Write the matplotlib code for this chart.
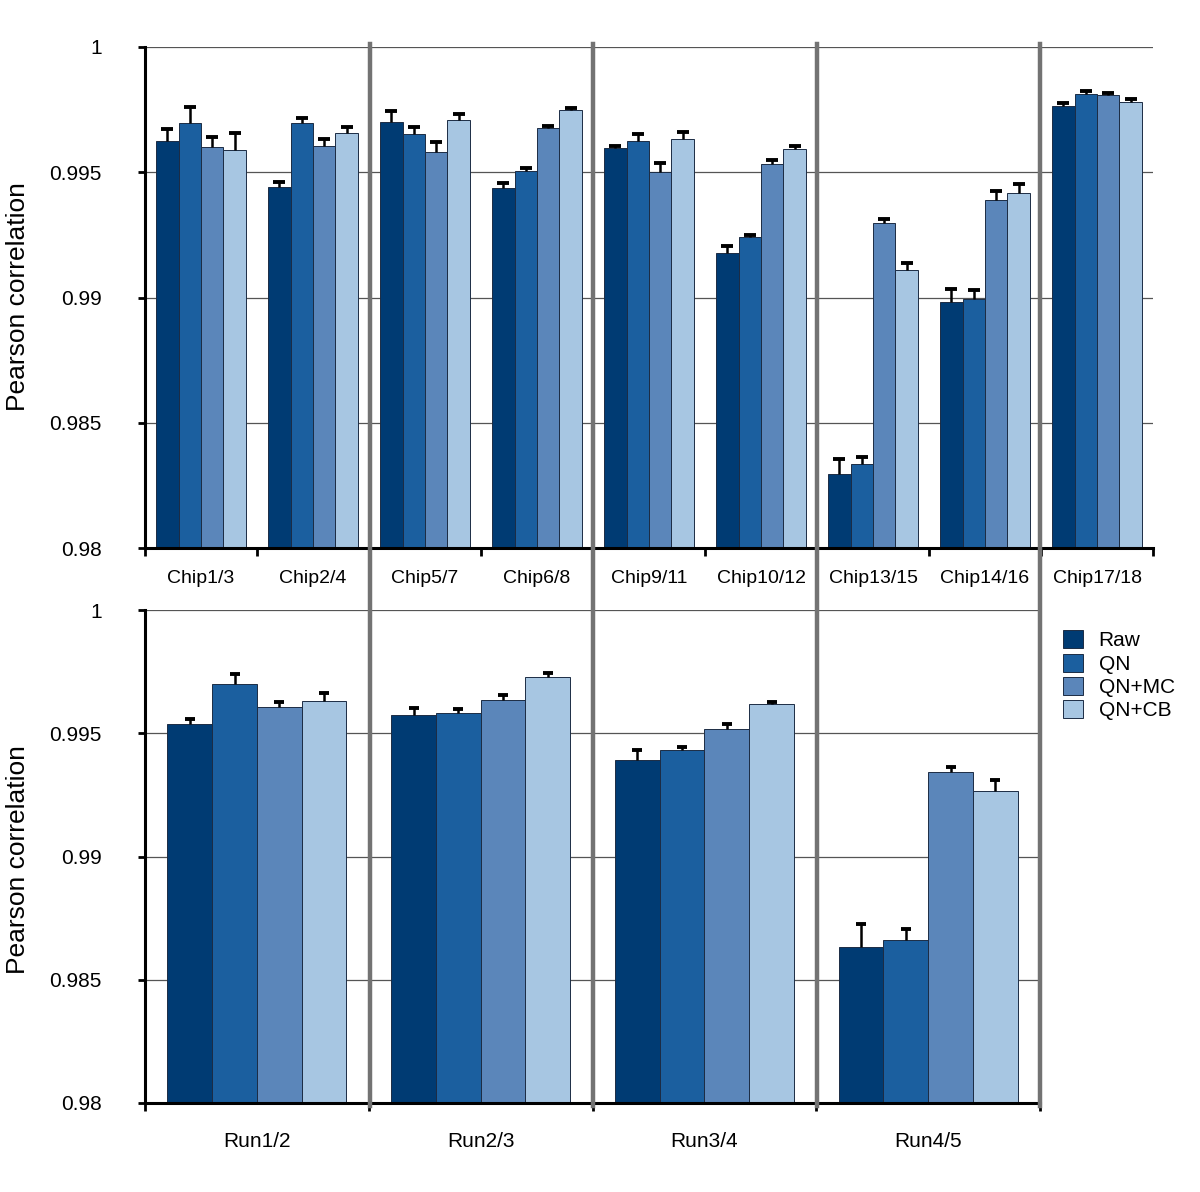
import matplotlib
matplotlib.use("Agg")
from matplotlib import pyplot as plt
from matplotlib.lines import Line2D
from matplotlib.patches import Patch
import numpy as np

plt.rcParams['font.family'] = ['Liberation Sans', 'DejaVu Sans']

# top panel: chip pairs
chips = ['Chip1/3', 'Chip2/4', 'Chip5/7', 'Chip6/8', 'Chip9/11',
         'Chip10/12', 'Chip13/15', 'Chip14/16', 'Chip17/18']
chip_raw = [0.99626, 0.99441, 0.99701, 0.99438, 0.99597, 0.99179, 0.98295, 0.98982, 0.99764]
chip_qn = [0.99695, 0.99698, 0.99651, 0.99504, 0.99624, 0.99240, 0.98335, 0.98994, 0.99811]
chip_mc = [0.99600, 0.99604, 0.99582, 0.99677, 0.99500, 0.99532, 0.99296, 0.99389, 0.99807]
chip_cb = [0.99588, 0.99657, 0.99707, 0.99747, 0.99634, 0.99592, 0.99111, 0.99418, 0.99782]
chip_raw_err = [0.00045, 0.00020, 0.00045, 0.00019, 0.00007, 0.00027, 0.00060, 0.00053, 0.00013]
chip_qn_err = [0.00067, 0.00019, 0.00028, 0.00012, 0.00027, 0.00009, 0.00030, 0.00036, 0.00013]
chip_mc_err = [0.00042, 0.00028, 0.00038, 0.00006, 0.00038, 0.00018, 0.00017, 0.00036, 0.00010]
chip_cb_err = [0.00067, 0.00022, 0.00027, 0.00008, 0.00028, 0.00013, 0.00026, 0.00035, 0.00010]

# bottom panel: runs
runs = ['Run1/2', 'Run2/3', 'Run3/4', 'Run4/5']
run_raw = [0.99539, 0.99574, 0.99391, 0.98632]
run_qn = [0.99700, 0.99583, 0.99433, 0.98660]
run_mc = [0.99605, 0.99635, 0.99516, 0.99343]
run_cb = [0.99631, 0.99728, 0.99618, 0.99265]
run_raw_err = [0.00019, 0.00028, 0.00043, 0.00093]
run_qn_err = [0.00039, 0.00014, 0.00011, 0.00044]
run_mc_err = [0.00020, 0.00021, 0.00023, 0.00020]
run_cb_err = [0.00033, 0.00015, 0.00008, 0.00046]

methods = ['Raw', 'QN', 'QN+MC', 'QN+CB']
colors = ['#003b73', '#1b5f9f', '#5b86ba', '#a7c6e2']
yticks = [0.98, 0.985, 0.99, 0.995, 1.0]
ytick_labels = ['0.98', '0.985', '0.99', '0.995', '1']

fig = plt.figure(figsize=(12, 11.92), dpi=100)
ax1 = fig.add_axes([145 / 1200, 1 - 548 / 1192, 1008 / 1200, 501 / 1192])
ax2 = fig.add_axes([145 / 1200, 1 - 1103 / 1192, 895 / 1200, 493 / 1192])


def draw_panel(ax, labels, series, errs, cap_ms, label_size, label_pad):
    x = np.arange(len(labels))
    w = 0.2
    for i in range(4):
        xs = x + (i - 1.5) * w
        vals = np.array(series[i])
        e = np.array(errs[i])
        ax.bar(xs, vals, width=w, color=colors[i], edgecolor='#1c2c44',
               linewidth=0.7, zorder=2)
        ax.vlines(xs, vals, vals + e, color='black', lw=1.8, zorder=3)
        ax.plot(xs, vals + e, ls='none', marker='_', ms=cap_ms, mew=2.8,
                color='black', zorder=3)
    ax.set_xlim(-0.5, len(labels) - 0.5)
    ax.set_ylim(0.98, 1.0)
    ax.set_yticks(yticks)
    ax.set_yticklabels(ytick_labels, fontsize=15)
    ax.set_xticks(x)
    ax.set_xticklabels(labels, fontsize=label_size)
    ax.set_xticks(np.arange(len(labels) + 1) - 0.5, minor=True)
    ax.tick_params(axis='x', which='major', length=0, pad=label_pad)
    ax.tick_params(axis='x', which='minor', length=6, width=2, direction='out')
    ax.tick_params(axis='y', length=5, width=2, direction='out', pad=26)
    ax.yaxis.grid(True, color='#555555', lw=0.9)
    ax.set_axisbelow(True)
    for s in ['top', 'right']:
        ax.spines[s].set_visible(False)
    for s in ['left', 'bottom']:
        ax.spines[s].set_linewidth(2.2)
        ax.spines[s].set_color('black')


draw_panel(ax1, chips, [chip_raw, chip_qn, chip_mc, chip_cb],
           [chip_raw_err, chip_qn_err, chip_mc_err, chip_cb_err], 8, 14, 16)
draw_panel(ax2, runs, [run_raw, run_qn, run_mc, run_cb],
           [run_raw_err, run_qn_err, run_mc_err, run_cb_err], 7.5, 15, 21)

fig.text(18 / 1200, 1 - 297 / 1192, 'Pearson correlation', rotation=90,
         ha='center', va='center', fontsize=19)
fig.text(18 / 1200, 1 - 860 / 1192, 'Pearson correlation', rotation=90,
         ha='center', va='center', fontsize=19)

# gray separators between chip groups
for xp in [370, 593, 817, 1040]:
    fig.add_artist(Line2D([xp / 1200, xp / 1200], [1 - 44 / 1192, 1 - 1106 / 1192],
                          transform=fig.transFigure, color='#737373', lw=3.2,
                          zorder=10))

handles = [Patch(facecolor=c, edgecolor='#1c2c44', lw=0.7) for c in colors]
fig.legend(handles, methods, loc='upper left',
           bbox_to_anchor=(1055 / 1200, 1 - 622 / 1192), frameon=False,
           fontsize=15, handlelength=0.95, handleheight=0.95,
           labelspacing=0.15, handletextpad=0.75, borderaxespad=0)

fig.savefig('out.png', dpi=100, facecolor='white')
